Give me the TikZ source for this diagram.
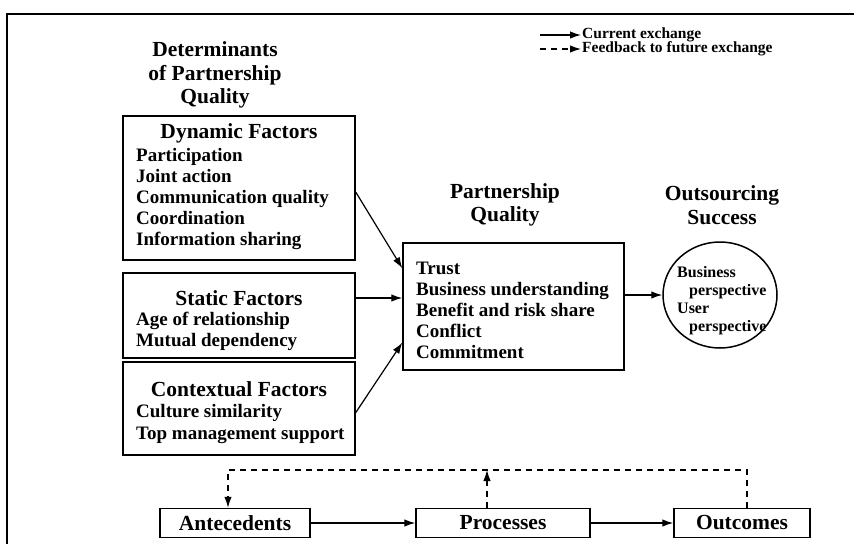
\documentclass[tikz,border=0pt]{standalone}
\usepackage{fontspec}
\setmainfont{Liberation Serif}
\usetikzlibrary{arrows.meta,positioning,shapes}

\begin{document}
\begin{tikzpicture}[x=1pt,y=-1pt,
    box/.style={draw,line width=1.5pt,inner sep=0pt},
    head/.style={font=\fontsize{21.5}{23.5}\selectfont\bfseries,align=center},
    item/.style={font=\fontsize{19}{21}\selectfont\bfseries,anchor=base west,inner sep=0pt},
    small/.style={font=\fontsize{16}{18}\selectfont\bfseries,anchor=base west,inner sep=0pt},
    legend/.style={font=\fontsize{15.5}{15}\selectfont\bfseries,anchor=west,inner sep=1pt,text height=9pt,text depth=2pt},
    flow/.style={-{Latex[length=11pt,width=7.5pt]},line width=1.2pt},
    back/.style={flow,dash pattern=on 6pt off 5pt}]
    \useasboundingbox (0,0) rectangle (854,544);

    % frame
    \draw[line width=1.5pt] (854,14) -- (7,14) -- (7,544);

    % legend
    \coordinate (cur0) at (540,35);
    \node[legend] (curtxt) at (581,35) {Current exchange};
    \coordinate (fdb0) at (540,49);
    \node[legend] (fdbtxt) at (581,49) {Feedback to future exchange};
    \draw[flow] (cur0) -- (curtxt.west);
    \draw[back] (fdb0) -- (fdbtxt.west);

    % determinants
    \node[head] (dettitle) at (215,75) {Determinants\\of Partnership\\Quality};

    \node[box,minimum width=232,minimum height=144] (dyn) at (239,188) {};
    \node[head] (dynhead) at (239,133) {Dynamic Factors};
    \foreach \txt [count=\i] in {Participation,Joint action,Communication quality,Coordination,Information sharing}
        \node[item] (dyn\i) at (136,{161+21.2*(\i-1)}) {\txt};

    \node[box,minimum width=232,minimum height=85] (stat) at (239,315.5) {};
    \node[head] (stathead) at (239,298) {Static Factors};
    \foreach \txt [count=\i] in {Age of relationship,Mutual dependency}
        \node[item] (stat\i) at (136,{325+21*(\i-1)}) {\txt};

    \node[box,minimum width=232,minimum height=93] (ctx) at (239,408.5) {};
    \node[head] (ctxhead) at (239,389) {Contextual Factors};
    \foreach \txt [count=\i] in {Culture similarity,Top management support}
        \node[item] (ctx\i) at (136,{417+22*(\i-1)}) {\txt};

    % partnership quality
    \node[head] (pqhead) at (505,205) {Partnership\\Quality};
    \node[box,minimum width=221,minimum height=127] (pq) at (513.5,306.5) {};
    \foreach \txt [count=\i] in {Trust,Business understanding,Benefit and risk share,Conflict,Commitment}
        \node[item] (pq\i) at (416,{274+21.2*(\i-1)}) {\txt};

    % outsourcing success
    \node[head] (oshead) at (722,205) {Outsourcing\\Success};
    \node[box,ellipse,minimum width=114,minimum height=106] (succ) at (720,295) {};
    \node[small] (succ1) at (677,277) {Business};
    \node[small] (succ2) at (689,295) {perspective};
    \node[small] (succ3) at (677,313) {User};
    \node[small] (succ4) at (689,331) {perspective};

    \coordinate (mid) at (0,298);
    \draw[flow] (dyn.-2.5) -- (pq.161);
    \draw[flow] (stat.east |- mid) -- (pq.west |- mid);
    \draw[flow] (ctx.-2) -- (pq.198);
    \draw[flow] (pq.east |- succ.west) -- (succ.west);

    % process chain
    \node[box,head,minimum width=150,minimum height=29] (ante) at (235,523) {Antecedents};
    \node[box,head,minimum width=174,minimum height=29] (proc) at (503,523) {Processes};
    \node[box,head,minimum width=136,minimum height=29] (outc) at (742,523) {Outcomes};

    \foreach \from/\to in {ante/proc,proc/outc}
        \draw[flow] (\from) -- (\to);

    \coordinate (fb) at (0,470);
    \draw[back] ([xshift=5pt]outc.north) |- ([xshift=-7pt]ante.north |- fb) -- ([xshift=-7pt]ante.north);
    \draw[back] ([xshift=-16pt]proc.north) -- ([xshift=-16pt]proc.north |- fb);
\end{tikzpicture}
\end{document}
